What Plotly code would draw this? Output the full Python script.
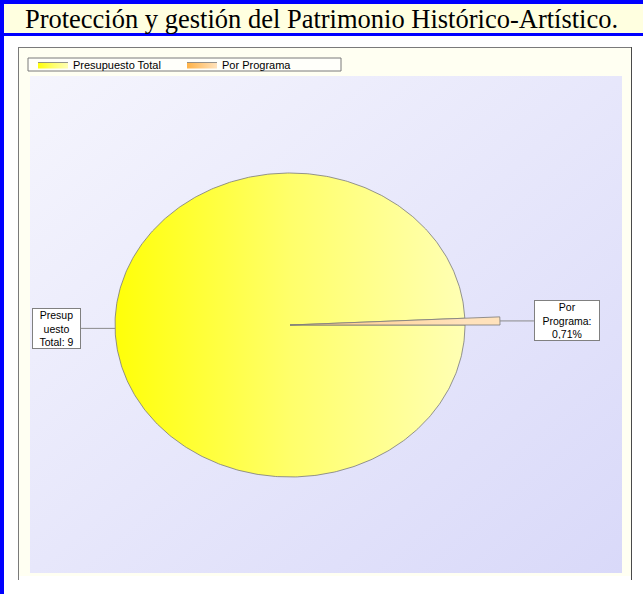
import base64
import numpy as np
import plotly.graph_objects as go

# data
categories = ["Presupuesto Total", "Por Programa"]
shares = [99.29, 0.71]
label_texts = ["Presup<br>uesto<br>Total: 9", "Por<br>Programa:<br>0,71%"]
title_text = "Protección y gestión del Patrimonio Histórico-Artístico."

# styling
slice_radius = [1.0, 1.2]
slice_grad = [
    [[0, "#FFFF08"], [0.5, "#FFFF6A"], [1, "#FFFFB4"]],
    [[0, "#FFB246"], [1, "#FFE2BC"]],
]

W, H = 643, 594
ML, MR, MT, MB = 30, 21, 76, 21
PW, PH = W - ML - MR, H - MT - MB
CX, CY, RX, RY = 290, 325, 175, 152  # pie centre and radii in px


def px(x):
    return (x - ML) / PW


def py(y):
    return (H - MB - y) / PH


fig = go.Figure()

a0 = 0.0
mids = []
for name, val, r, grad in zip(categories, shares, slice_radius, slice_grad):
    a1 = a0 - val / 100 * 2 * np.pi
    th = np.linspace(a0, a1, max(3, int(abs(a1 - a0) * 80)))
    xs = np.concatenate([[0], r * np.cos(th), [0]])
    ys = np.concatenate([[0], r * np.sin(th), [0]])
    fig.add_trace(go.Scatter(
        x=xs, y=ys, mode="lines", fill="toself", name=name,
        line=dict(color="#7a7a7a", width=0.8),
        fillgradient=dict(type="horizontal", colorscale=grad, start=-1, stop=1),
        hoverinfo="name",
    ))
    mids.append(((a0 + a1) / 2, r))
    a0 = a1

# leader lines + label boxes
gap = 34 / RX
for (mid, r), txt in zip(mids, label_texts):
    x0, y0 = r * np.cos(mid), r * np.sin(mid)
    side = 1 if np.cos(mid) > 0 else -1
    x1 = x0 + side * gap
    fig.add_trace(go.Scatter(x=[x0, x1], y=[y0, y0], mode="lines",
                             line=dict(color="#8a8a8a", width=1),
                             showlegend=False, hoverinfo="skip"))
    fig.add_annotation(
        x=x1, y=y0, xref="x", yref="y", text=txt, showarrow=False,
        xanchor="left" if side > 0 else "right", yanchor="middle",
        width=62 if side > 0 else 45, height=37, align="center",
        font=dict(family="Liberation Sans, Arial", size=10.5, color="black"),
        bgcolor="white", bordercolor="#808080", borderwidth=1, borderpad=1,
    )

# plot-area gradient background
svg = ("<svg xmlns='http://www.w3.org/2000/svg' width='592' height='497'>"
       "<defs><linearGradient id='g' x1='0' y1='0' x2='1' y2='1'>"
       "<stop offset='0' stop-color='#F5F5FD'/><stop offset='1' stop-color='#D9D9F9'/>"
       "</linearGradient></defs><rect width='592' height='497' fill='url(#g)'/></svg>")
bg_src = "data:image/svg+xml;base64," + base64.b64encode(svg.encode()).decode()

shapes = []


def rect(x0, y0, x1, y1, fill, line=None):
    shapes.append(dict(type="rect", xref="paper", yref="paper", layer="below",
                       x0=px(x0), x1=px(x1), y0=py(y1), y1=py(y0),
                       fillcolor=fill, line=dict(width=0) if line is None else line))


def seg(x0, y0, x1, y1, color="#7a7a7a"):
    shapes.append(dict(type="line", xref="paper", yref="paper", layer="below",
                       x0=px(x0), x1=px(x1), y0=py(y0), y1=py(y1),
                       line=dict(color=color, width=1)))


# white page outside the chart box
rect(0, 36, W, 47, "white")
rect(0, 36, 18, H, "white")
rect(631, 36, W, H, "white")
rect(0, 576, W, H, "white")
# blue frame + title strip
rect(0, 0, W, 36, "#0000FF")
rect(4, 4, W, 33, "#FFFFE0")
rect(0, 0, 4, H, "#0000FF")
# chart box border
seg(18, 47.5, 631, 47.5)
seg(18.5, 47, 18.5, 580)
seg(631.5, 47, 631.5, 580, "#4a4a4a")
# legend box
rect(28, 58, 341, 71, "#FFFFFA", dict(color="#7a7a7a", width=1))

fig.update_layout(
    width=W, height=H,
    margin=dict(l=ML, r=MR, t=MT, b=MB),
    paper_bgcolor="#FFFFF2", plot_bgcolor="rgba(0,0,0,0)",
    title=dict(text=title_text, x=0.5, xref="container", xanchor="center",
               y=1 - 19 / H, yref="container", yanchor="middle",
               font=dict(family="Liberation Serif, Times New Roman", size=26.5, color="black")),
    xaxis=dict(visible=False, range=[(ML - CX) / RX, (W - MR - CX) / RX], fixedrange=True),
    yaxis=dict(visible=False, range=[(CY - (H - MB)) / RY, (CY - MT) / RY], fixedrange=True),
    legend=dict(orientation="h", x=px(33), y=py(64.5), xanchor="left", yanchor="middle",
                bgcolor="rgba(0,0,0,0)", borderwidth=0,
                font=dict(family="Liberation Sans, Arial", size=11, color="black"),
                entrywidth=104, entrywidthmode="pixels"),
    images=[dict(source=bg_src, xref="paper", yref="paper", x=0, y=1, sizex=1, sizey=1,
                 xanchor="left", yanchor="top", sizing="stretch", layer="below")],
    shapes=shapes,
    showlegend=True,
)

fig.write_html("out.html", config={"displayModeBar": False},
               post_script="document.body.style.margin='0';")
